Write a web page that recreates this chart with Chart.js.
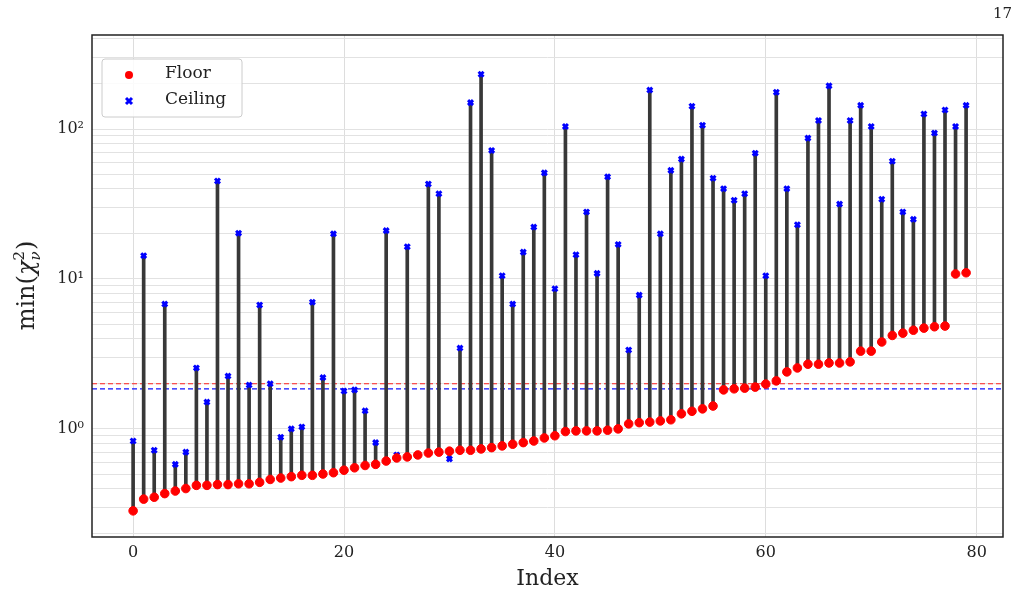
<!DOCTYPE html>
<html><head><meta charset="utf-8">
<script src="https://cdn.jsdelivr.net/npm/chart.js@4/dist/chart.umd.min.js"></script>
<style>html,body{margin:0;padding:0;background:#fff}#wrap{width:1024px;height:606px;position:relative}</style>
</head><body><div id="wrap"><canvas id="c" width="1024" height="606"></canvas></div>
<script>
const indices = Array.from({length:80},(_,i)=>i);
const floorVals = [0.284,0.34,0.35,0.37,0.385,0.40,0.42,0.42,0.425,0.425,0.43,0.43,0.44,0.46,0.47,0.48,0.49,0.49,0.50,0.51,
0.53,0.55,0.57,0.58,0.61,0.64,0.65,0.67,0.69,0.70,0.71,0.72,0.72,0.735,0.75,0.77,0.79,0.81,0.83,0.87,
0.90,0.96,0.97,0.97,0.97,0.98,1.0,1.08,1.10,1.11,1.13,1.15,1.26,1.31,1.36,1.42,1.82,1.85,1.87,1.9,
1.99,2.09,2.4,2.55,2.7,2.7,2.75,2.75,2.8,3.3,3.3,3.8,4.2,4.35,4.55,4.7,4.8,4.85,10.8,11.0];
const ceilVals = [0.83,14.3,0.72,6.8,0.58,0.70,2.55,1.51,45,2.25,20.2,1.96,6.7,2.0,0.88,1.0,1.03,7.0,2.2,20,
1.79,1.82,1.32,0.81,21,0.67,16.4,0.67,43,37,0.63,3.46,150,232,72,10.5,6.8,15.1,22.2,51,
8.6,104,14.5,28,10.9,48,17,3.36,7.8,182,20,53,63,142,106,47,40,33.5,37,69,
10.5,176,40,23,87,114,194,31.6,114,144,104,34,61,28,25,126,94,134,104,144];
const floorLine = 2.0, ceilLine = 1.85;
const yTickVals = [];
[0.1,1,10,100].forEach(d=>{for(let k=1;k<10;k++){const v=+(d*k).toPrecision(3); if(v>=0.2&&v<=400) yTickVals.push(v);}});
const SERIF = '"DejaVu Serif", "Liberation Serif", serif';

const extras = {
  id:'extras',
  beforeDatasetsDraw(ch){
    const {ctx,chartArea:a,scales:{y}}=ch;
    ctx.save();ctx.setLineDash([5,3]);ctx.lineWidth=1.2;
    [[floorLine,'#ff2020'],[ceilLine,'#1010ff']].forEach(([v,c])=>{
      const py=y.getPixelForValue(v);ctx.strokeStyle=c;ctx.beginPath();ctx.moveTo(a.left,py);ctx.lineTo(a.right,py);ctx.stroke();});
    ctx.restore();
  },
  afterDraw(ch){
    const {ctx,chartArea:a}=ch;
    ctx.save();
    ctx.strokeStyle='#222';ctx.lineWidth=1.5;ctx.strokeRect(a.left,a.top,a.right-a.left,a.bottom-a.top);
    const lx=a.left+10,ly=a.top+24;
    ctx.fillStyle='rgba(255,255,255,0.85)';ctx.strokeStyle='#ccc';ctx.lineWidth=1;
    ctx.beginPath();ctx.roundRect(lx,a.top+24,140,58,3);ctx.fill();ctx.stroke();
    ctx.fillStyle='red';ctx.beginPath();ctx.arc(lx+27,ly+16,4,0,Math.PI*2);ctx.fill();
    ctx.strokeStyle='blue';ctx.lineWidth=3;const cx=lx+27,cy=ly+42;
    ctx.beginPath();ctx.moveTo(cx-3,cy-3);ctx.lineTo(cx+3,cy+3);ctx.moveTo(cx+3,cy-3);ctx.lineTo(cx-3,cy+3);ctx.stroke();
    ctx.fillStyle='#222';ctx.font='17px '+SERIF;ctx.textBaseline='middle';
    ctx.fillText('Floor',lx+63,ly+15);ctx.fillText('Ceiling',lx+63,ly+41);
    ctx.translate(26,(a.top+a.bottom)/2);ctx.rotate(-Math.PI/2);
    ctx.textBaseline='alphabetic';ctx.font='24px '+SERIF;
    const p1='min(',p2='χ';let w1=ctx.measureText(p1).width,w2=ctx.measureText(p2).width;
    ctx.font='15px '+SERIF;const ws=ctx.measureText('2').width;ctx.font='24px '+SERIF;const w3=ctx.measureText(')').width;
    let x=-(w1+w2+ws+w3)/2;
    ctx.fillText(p1,x,8);x+=w1;ctx.font='italic 24px '+SERIF;ctx.fillText(p2,x,8);x+=w2;
    ctx.font='15px '+SERIF;ctx.fillText('2',x,-2);ctx.font='italic 15px '+SERIF;ctx.fillText('ν',x,14);x+=ws+1;
    ctx.font='24px '+SERIF;ctx.fillText(')',x,8);
    ctx.restore();
    ctx.save();ctx.font='15px '+SERIF;ctx.fillStyle='#222';ctx.textAlign='right';ctx.fillText('17',1012,18);ctx.restore();
  }
};

new Chart(document.getElementById('c'),{
  data:{labels:indices,datasets:[
    {type:'scatter',label:'Floor',data:indices.map(i=>({x:i,y:floorVals[i]})),backgroundColor:'red',borderColor:'red',pointRadius:4.3,pointStyle:'circle',order:1},
    {type:'scatter',label:'Ceiling',data:indices.map(i=>({x:i,y:ceilVals[i]})),backgroundColor:'blue',borderColor:'blue',pointRadius:3.5,borderWidth:3,pointStyle:'crossRot',order:2},
    {type:'bar',label:'stem',data:indices.map(i=>({x:i,y:[floorVals[i],ceilVals[i]]})),backgroundColor:'#383838',barThickness:3,order:3}
  ]},
  options:{responsive:false,animation:false,
    layout:{padding:{top:35,right:21,left:0,bottom:0}},
    plugins:{legend:{display:false},tooltip:{enabled:false}},
    scales:{
      x:{type:'linear',min:-3.9,max:82.5,offset:false,
        afterBuildTicks(s){s.ticks=[0,20,40,60,80].map(v=>({value:v}));},
        afterFit(s){s.height=69;},
        grid:{color:'#dddddd',drawTicks:false,offset:false},border:{display:false},
        ticks:{padding:6,color:'#222',font:{family:SERIF,size:16}},
        title:{display:true,text:'Index',color:'#222',font:{family:SERIF,size:22},padding:{top:0,bottom:14}}},
      y:{type:'logarithmic',min:0.19,max:424,
        afterBuildTicks(s){s.ticks=yTickVals.map(v=>({value:v}));},
        afterFit(s){s.width=92;},
        grid:{color:'#e2e2e2',drawTicks:false},border:{display:false},
        ticks:{padding:8,color:'#222',font:{family:SERIF,size:16},autoSkip:false,
          callback:v=>v===1?'10⁰':v===10?'10¹':v===100?'10²':''}}
    }},
  plugins:[extras]
});
</script></body></html>
